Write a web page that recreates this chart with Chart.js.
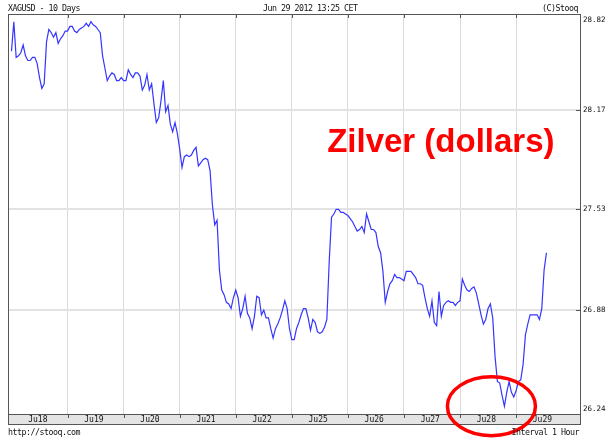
<!DOCTYPE html>
<html>
<head>
<meta charset="utf-8">
<script src="https://cdn.jsdelivr.net/npm/chart.js"></script>
<style>
    html, body { margin: 0; padding: 0; background: #fff; }
    #wrap { position: relative; width: 609px; height: 439px; overflow: hidden; background: #fff; }
    .t { position: absolute; font: 8.3px "DejaVu Sans Mono", monospace; letter-spacing: -0.5px; color: #111; white-space: nowrap; line-height: 10px; }
</style>
</head>
<body>
<div id="wrap">
    <canvas id="chart" width="609" height="439"></canvas>
    <div class="t" style="left:8px; top:3px">XAGUSD - 10 Days</div>
    <div class="t" style="left:263px; top:3px">Jun 29 2012 13:25 CET</div>
    <div class="t" style="right:31px; top:3px">(C)Stooq</div>
    <div class="t" style="left:8px; top:427px">http://stooq.com</div>
    <div class="t" style="right:30px; top:427px">Interval 1 Hour</div>
</div>
<script>
// hourly XAGUSD closes, one array per trading day
const jun18 = [28.55, 28.74, 28.51, 28.52, 28.54, 28.59, 28.52, 28.49, 28.49, 28.51, 28.51, 28.47, 28.38, 28.31, 28.34, 28.61, 28.69, 28.67, 28.64, 28.67, 28.60, 28.63, 28.65, 28.68];
const jun19 = [28.68, 28.71, 28.71, 28.68, 28.67, 28.69, 28.70, 28.71, 28.73, 28.71, 28.74, 28.72, 28.71, 28.69, 28.67, 28.52, 28.44, 28.36, 28.39, 28.41, 28.40, 28.36, 28.36, 28.38];
const jun20 = [28.36, 28.36, 28.43, 28.40, 28.38, 28.41, 28.41, 28.39, 28.30, 28.33, 28.40, 28.30, 28.34, 28.21, 28.09, 28.12, 28.23, 28.36, 28.16, 28.20, 28.08, 28.03, 28.09, 28.02];
const jun21 = [27.92, 27.80, 27.87, 27.88, 27.87, 27.88, 27.91, 27.93, 27.81, 27.83, 27.85, 27.86, 27.85, 27.78, 27.56, 27.43, 27.46, 27.14, 27.01, 26.98, 26.93, 26.92, 26.89, 26.96];
const jun22 = [27.01, 26.96, 26.84, 26.89, 26.97, 26.86, 26.83, 26.76, 26.84, 26.97, 26.96, 26.85, 26.88, 26.83, 26.83, 26.76, 26.70, 26.76, 26.79, 26.83, 26.88, 26.94, 26.89, 26.76];
const jun25 = [26.69, 26.69, 26.76, 26.80, 26.85, 26.89, 26.89, 26.83, 26.75, 26.82, 26.80, 26.74, 26.73, 26.74, 26.77, 26.82, 27.19, 27.48, 27.50, 27.53, 27.53, 27.51, 27.51, 27.50];
const jun26 = [27.49, 27.47, 27.45, 27.42, 27.39, 27.40, 27.42, 27.38, 27.50, 27.45, 27.40, 27.40, 27.38, 27.29, 27.25, 27.13, 26.93, 27.00, 27.05, 27.07, 27.11, 27.09, 27.09, 27.08];
const jun27 = [27.07, 27.13, 27.13, 27.13, 27.11, 27.09, 27.05, 27.05, 27.04, 26.96, 26.89, 26.84, 26.94, 26.80, 26.78, 27.00, 26.84, 26.91, 26.93, 26.94, 26.93, 26.93, 26.91, 26.93];
const jun28 = [26.94, 27.08, 27.04, 27.01, 27.00, 27.02, 27.03, 26.99, 26.92, 26.85, 26.79, 26.82, 26.89, 26.92, 26.83, 26.58, 26.42, 26.41, 26.33, 26.26, 26.35, 26.42, 26.35, 26.32];
const jun29 = [26.36, 26.42, 26.43, 26.53, 26.72, 26.79, 26.85, 26.85, 26.85, 26.85, 26.82, 26.89, 27.14, 27.25];

const days = [jun18, jun19, jun20, jun21, jun22, jun25, jun26, jun27, jun28, jun29];
const xLabels = ['Ju18', 'Ju19', 'Ju20', 'Ju21', 'Ju22', 'Ju25', 'Ju26', 'Ju27', 'Ju28', 'Ju29'];
const yTickValues = [26.24, 26.88, 27.53, 28.17, 28.82];
const yTickLabels = ['26.24', '26.88', '27.53', '28.17', '28.82'];

// axis ranges (in days / dollars)
const xMin = -0.062, xMax = 10.14;
const yMin = 26.21, yMax = 28.79;

// annotations, placed in data units
const note = { text: 'Zilver (dollars)', x: 5.63, y: 27.90 };
const ring = { x: 8.56, y: 26.26, rx: 0.785, ry: 0.19 };

const points = [];
days.forEach((arr, d) => arr.forEach((v, h) => points.push({ x: d + h / 24, y: v })));

const frame = {
    id: 'frame',
    afterDraw(chart) {
        const { ctx, chartArea: a, scales } = chart;
        const band = scales.xl;
        ctx.save();
        ctx.strokeStyle = '#555';
        ctx.lineWidth = 1;
        ctx.strokeRect(a.left + 0.5, a.top + 0.5, a.right - a.left, band.bottom - a.top);
        ctx.beginPath();
        ctx.moveTo(a.left, a.bottom + 0.5);
        ctx.lineTo(a.right, a.bottom + 0.5);
        scales.x.ticks.forEach(t => {
            const px = Math.round(scales.x.getPixelForValue(t.value)) + 0.5;
            ctx.moveTo(px, a.top); ctx.lineTo(px, a.top + 4);
            ctx.moveTo(px, a.bottom); ctx.lineTo(px, a.bottom + 4);
        });
        scales.y.ticks.forEach((t, i) => {
            if (i === 0 || i === scales.y.ticks.length - 1) return;
            const py = Math.round(scales.y.getPixelForValue(t.value)) + 0.5;
            ctx.moveTo(a.right - 4, py); ctx.lineTo(a.right, py);
        });
        ctx.stroke();
        ctx.restore();
    }
};

const marks = {
    id: 'marks',
    afterDraw(chart) {
        const { ctx, scales: { x, y } } = chart;
        ctx.save();
        ctx.font = 'bold 33px "Liberation Sans", Arial, sans-serif';
        ctx.fillStyle = '#ff0000';
        ctx.textBaseline = 'alphabetic';
        ctx.fillText(note.text, x.getPixelForValue(note.x), y.getPixelForValue(note.y));

        const cx = x.getPixelForValue(ring.x), cy = y.getPixelForValue(ring.y);
        const rx = x.getPixelForValue(ring.x + ring.rx) - cx;
        const ry = cy - y.getPixelForValue(ring.y + ring.ry);
        ctx.strokeStyle = '#ff0000';
        ctx.lineWidth = 3.5;
        ctx.beginPath();
        ctx.ellipse(cx, cy, rx, ry, 0, 0, Math.PI * 2);
        ctx.stroke();
        ctx.restore();
    }
};

new Chart(document.getElementById('chart'), {
    type: 'line',
    data: {
        datasets: [{
            data: points,
            borderColor: '#3535ff',
            borderWidth: 1.2,
            pointRadius: 0,
            tension: 0,
            fill: false
        }]
    },
    options: {
        responsive: false,
        animation: false,
        layout: { padding: { left: 8, top: 14, right: 0, bottom: 15 } },
        plugins: { legend: { display: false }, tooltip: { enabled: false } },
        scales: {
            x: {
                type: 'linear', position: 'bottom', weight: 0,
                min: xMin, max: xMax,
                afterBuildTicks: s => { s.ticks = days.slice(1).map((_, i) => ({ value: i + 1 })); },
                afterFit: s => { s.height = 0; },
                ticks: { display: false },
                grid: { color: '#d9d9d9', drawTicks: false },
                border: { display: false }
            },
            xl: {
                type: 'linear', position: 'bottom', weight: 1,
                min: xMin, max: xMax,
                backgroundColor: '#e4e4e4',
                afterBuildTicks: s => { s.ticks = xLabels.map((_, i) => ({ value: i + 0.47 })); },
                afterFit: s => { s.height = 10; },
                ticks: {
                    autoSkip: false, maxRotation: 0, padding: 1,
                    font: { family: '"DejaVu Sans Mono", monospace', size: 8 },
                    color: '#111',
                    callback: (v, i) => xLabels[i]
                },
                grid: { display: false, drawTicks: false },
                border: { display: false }
            },
            y: {
                position: 'right',
                min: yMin, max: yMax,
                afterBuildTicks: s => { s.ticks = yTickValues.map(v => ({ value: Math.min(Math.max(v, yMin), yMax - 0.04) })); },
                afterFit: s => { s.width = 29; },
                ticks: {
                    padding: 3,
                    font: { family: '"DejaVu Sans Mono", monospace', size: 7.5 },
                    color: '#111',
                    callback: (v, i) => yTickLabels[i]
                },
                grid: {
                    color: c => (c.index === 0 || c.index === yTickValues.length - 1) ? 'rgba(0,0,0,0)' : '#e2e2e2',
                    lineWidth: 2,
                    drawTicks: false
                },
                border: { display: false }
            }
        }
    },
    plugins: [frame, marks]
});
</script>
</body>
</html>
